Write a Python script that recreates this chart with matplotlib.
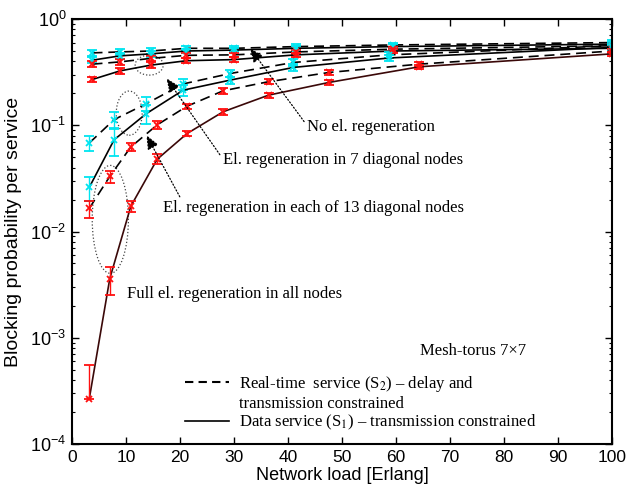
import matplotlib
matplotlib.use("Agg")
import matplotlib.pyplot as plt
from matplotlib.patches import Ellipse
from matplotlib.lines import Line2D

plt.rcParams['font.family'] = ['Liberation Sans', 'DejaVu Sans']
plt.rcParams['mathtext.fontset'] = 'stix'

# No el. regeneration (cyan markers)
x_noreg = [3.8, 8.9, 14.6, 21.2, 30, 41.5, 59.5, 100]
noreg_rt = [0.48, 0.49, 0.50, 0.53, 0.53, 0.55, 0.57, 0.60]
noreg_data = [0.41, 0.45, 0.47, 0.50, 0.51, 0.53, 0.55, 0.58]
noreg_err = [0.06, 0.06, 0.06, 0.05, 0.05, 0.05, 0.05, 0.05]

# El. regeneration in 7 diagonal nodes (red markers)
x_diag7 = [3.8, 8.9, 14.6, 21.2, 30, 41.5, 59.5, 100]
diag7_rt = [0.376, 0.395, 0.426, 0.455, 0.46, 0.49, 0.52, 0.56]
diag7_data = [0.27, 0.325, 0.368, 0.405, 0.415, 0.46, 0.50, 0.53]
diag7_err = [0.06, 0.06, 0.06, 0.05, 0.05, 0.05, 0.05, 0.05]

# El. regeneration in each of 13 diagonal nodes (cyan markers)
x_diag13 = [3.2, 7.8, 13.8, 20.6, 29.3, 41, 58.8, 100]
diag13_rt = [0.068, 0.113, 0.16, 0.245, 0.307, 0.39, 0.46, 0.56]
diag13_data = [0.026, 0.073, 0.129, 0.214, 0.266, 0.35, 0.43, 0.54]
diag13_rt_err = [0.16, 0.18, 0.15, 0.12, 0.08, 0.07, 0.06, 0.05]
diag13_data_err = [0.25, 0.3, 0.2, 0.12, 0.08, 0.07, 0.06, 0.05]

# Full el. regeneration in all nodes (red markers)
x_full = [3.2, 7.0, 10.9, 15.8, 21.3, 28.0, 36.4, 47.6, 64.3, 100]
full_rt = [0.0165, 0.033, 0.0625, 0.101, 0.151, 0.211, 0.257, 0.314, 0.376, 0.50]
full_data = [2.66e-4, 0.0036, 0.0173, 0.048, 0.0835, 0.134, 0.192, 0.253, 0.355, 0.47]
full_rt_err = [0.18, 0.13, 0.09, 0.08, 0.06, 0.06, 0.05, 0.05, 0.05, 0.05]
full_data_err = [1.1, 0.3, 0.11, 0.11, 0.06, 0.06, 0.05, 0.05, 0.05, 0.05]

CYAN = '#00e5f0'
RED = '#ff1010'

fig = plt.figure(figsize=(6.27, 4.9), dpi=100)
ax = fig.add_axes([0.1148, 0.0939, 0.8612, 0.8673])
ax.set_yscale('log')
ax.set_xlim(0, 100)
ax.set_ylim(1e-4, 1)


def series(x, y, rel, color, dashed, lcolor='black'):
    if dashed:
        ax.plot(x, y, color=lcolor, lw=1.2, ls='--', dashes=(6, 3.5))
    else:
        ax.plot(x, y, color=lcolor, lw=1.2)
    # error larger than the value itself: only the upper part is shown
    lo = [v * r if r < 1 else 0 for v, r in zip(y, rel)]
    hi = [v * r for v, r in zip(y, rel)]
    ax.errorbar(x, y, yerr=[lo, hi], fmt='x', color=color, ecolor=color,
                ms=5, mew=1.3, elinewidth=1.0, capsize=3.8, capthick=1.0)


series(x_noreg, noreg_rt, noreg_err, CYAN, True)
series(x_noreg, noreg_data, noreg_err, CYAN, False)
series(x_diag7, diag7_rt, diag7_err, RED, True)
series(x_diag7, diag7_data, diag7_err, RED, False)
series(x_diag13, diag13_rt, diag13_rt_err, CYAN, True)
series(x_diag13, diag13_data, diag13_data_err, CYAN, False)
series(x_full, full_rt, full_rt_err, RED, True)
series(x_full, full_data, full_data_err, RED, False, lcolor='#3a0808')

# ticks and frame
ax.set_xticks(range(0, 101, 10))
ax.tick_params(which='both', direction='in', top=True, right=True)
ax.tick_params(which='major', length=5, width=1.0)
ax.tick_params(which='minor', length=2.5, width=0.8)
ax.tick_params(axis='x', labelsize=12.5, pad=4)
ax.tick_params(axis='y', labelsize=13, pad=4)
for s in ax.spines.values():
    s.set_linewidth(1.5)

ax.set_xlabel('Network load [Erlang]', fontsize=13, labelpad=2)
ax.set_ylabel('Blocking probability per service', fontsize=14, labelpad=6)

serif = ['Liberation Serif', 'DejaVu Serif']
arrow = dict(arrowstyle='-|>,head_length=0.7,head_width=0.3', ls=':',
             lw=0.9, color='black', shrinkA=0, shrinkB=0)

ax.annotate('No el. regeneration', xy=(33, 0.53), xytext=(43.5, 0.0964),
            family=serif, fontsize=12, ha='left', va='center',
            arrowprops=dict(arrow, relpos=(0.0, 0.6)))
ax.annotate('El. regeneration in 7 diagonal nodes', xy=(17.5, 0.277),
            xytext=(27.9, 0.0468), family=serif, fontsize=12,
            ha='left', va='center', arrowprops=dict(arrow, relpos=(0.0, 0.6)))
ax.annotate('El. regeneration in each of 13 diagonal nodes', xy=(13.8, 0.0805),
            xytext=(16.9, 0.0168), family=serif, fontsize=12,
            ha='left', va='center', arrowprops=dict(arrow, relpos=(0.06, 1.0)))
ax.text(10.2, 0.0026, 'Full el. regeneration in all nodes', family=serif,
        fontsize=12, ha='left', va='center')
ax.text(64.4, 7.5e-4, 'Mesh-torus 7×7', family=serif, fontsize=12,
        ha='left', va='center')

# dotted ellipses around the grouped curves
to_axes = ax.transData + ax.transAxes.inverted()
for (cx, cy), w, h in [((14.3, 0.368), 0.052, 0.047),
                        ((10.6, 0.13), 0.048, 0.104),
                        ((7.1, 0.013), 0.067, 0.254)]:
    c = to_axes.transform((cx, cy))
    ax.add_patch(Ellipse(c, w, h, transform=ax.transAxes, fill=False,
                         ls=':', lw=0.9, ec='#444444'))

handles = [Line2D([], [], color='black', lw=1.5, ls='--', dashes=(4, 2.5)),
           Line2D([], [], color='none'),
           Line2D([], [], color='black', lw=1.2)]
labels = ['Real-time  service (S$_2$) – delay and',
          'transmission constrained',
          'Data service (S$_1$) – transmission constrained']
ax.legend(handles, labels, loc='upper left', bbox_to_anchor=(0.21, 0.165),
          frameon=False, prop={'family': serif, 'size': 12},
          handlelength=2.6, handletextpad=0.6, labelspacing=0.1,
          borderpad=0, borderaxespad=0)

fig.savefig('out.png', dpi=100)
